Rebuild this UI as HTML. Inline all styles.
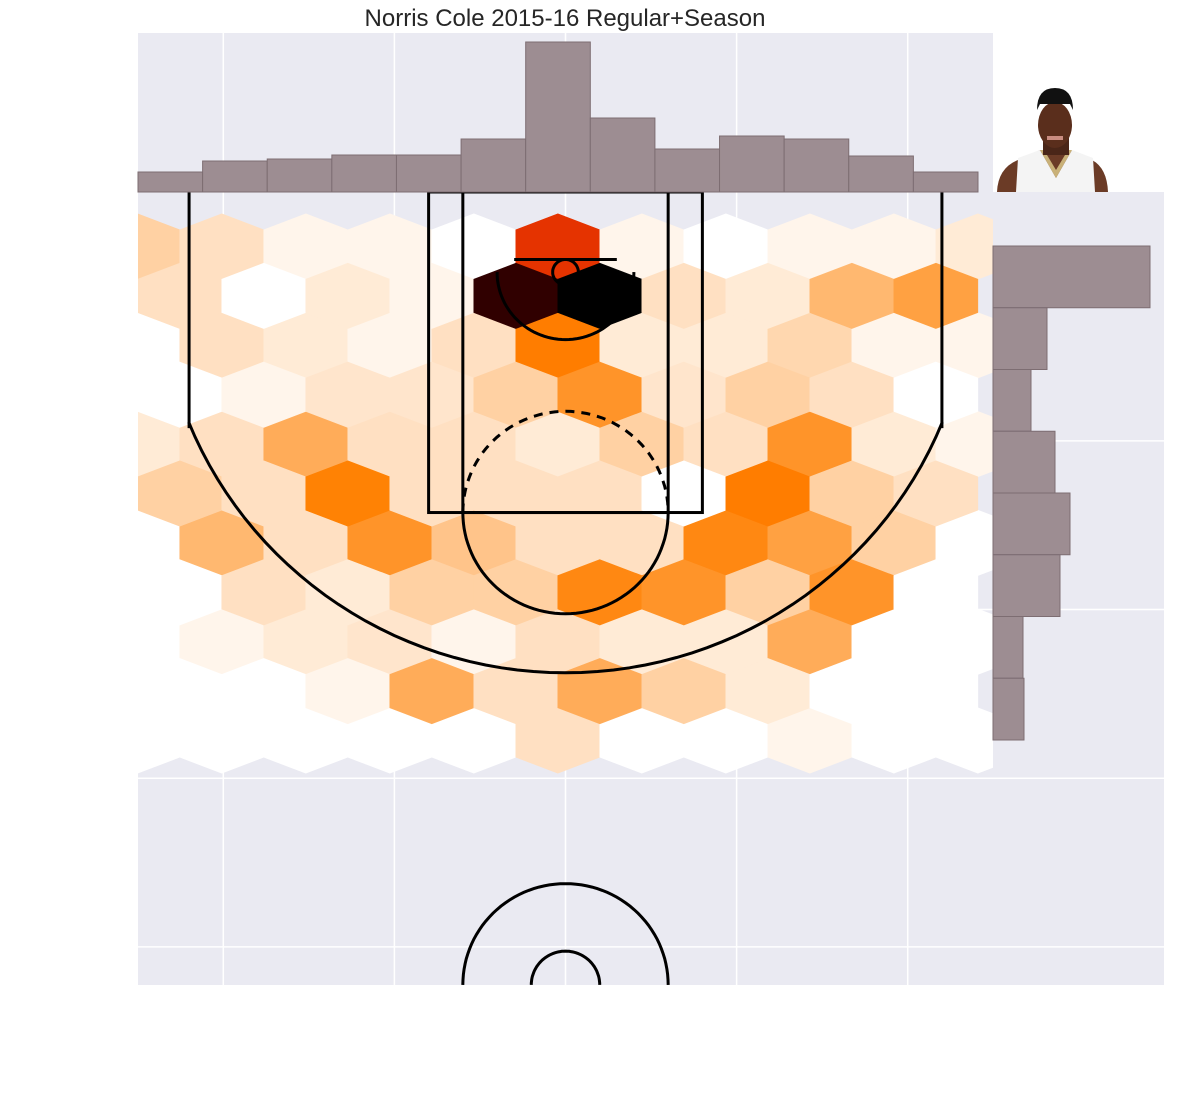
<!DOCTYPE html>
<html><head><meta charset="utf-8"><style>
body{margin:0;background:#fff;}
svg{display:block;font-family:"Liberation Sans",sans-serif;}
</style></head><body>
<svg id="chart" width="1200" height="1100" viewBox="0 0 1200 1100" xmlns="http://www.w3.org/2000/svg">
<text x="565" y="26" text-anchor="middle" font-size="24" fill="#262626">Norris Cole 2015-16 Regular+Season</text>
<rect x="138" y="33" width="855" height="159" fill="#eaeaf2"/>
<rect x="993" y="192" width="171" height="793" fill="#eaeaf2"/>
<rect x="138" y="192" width="855" height="793" fill="#eaeaf2"/>
<g id="grid"></g>
<g id="hexes"></g>
<g id="court" fill="none" stroke="#000" stroke-width="3"></g>
<g id="tophist"></g>
<g id="righthist"></g>
<g>
  <rect x="993" y="80" width="125" height="112" fill="#fff"/>
  <path d="M997 192 Q998 168 1018 160 L1040 150 L1070 150 L1092 160 Q1107 168 1108 192 Z" fill="#6b3b26"/>
  <path d="M1016 192 L1018 158 L1040 150 L1056 178 L1072 150 L1093 158 L1095 192 Z" fill="#f4f4f4"/>
  <path d="M1040 150 L1056 178 L1072 150 L1068 150 L1056 170 L1044 150 Z" fill="#c9b178"/>
  <rect x="1043" y="135" width="26" height="20" fill="#4a2618"/>
  <ellipse cx="1055" cy="125" rx="17" ry="23" fill="#5a2e1c"/>
  <path d="M1037 110 Q1037 88 1055 88 Q1073 88 1073 110 L1070 104 L1040 104 Z" fill="#111"/>
  <rect x="1047" y="136" width="16" height="4" fill="#c98c80"/>
</g>
<script>
// ---- data ----
const hexRowsEven = [
  [4,3,1,1,0,9,1,0,1,1,2],
  [0,3,2,1,3,8,2,2,3.6,1,1],
  [2,3,5.5,3,3,2,4,3,7,2,1],
  [0,5,3,7,4.5,3,3,7.5,6,4,0],
  [0,1,2,2.5,1,3,2,2,5.5,0,0],
  [0,0,0,0,0,3,0,0,1,0,0]
];
const hexRowsOdd = [
  [3,0,2,1,10,11,3,2,5,6],
  [0,1,2.5,2.5,4,7,2.5,4,3,0],
  [4,3,7.8,3,3,3,0,8,4,3],
  [0,3,2,4,4,7.5,7,4,7,0],
  [0,0,1,5.5,3,5.5,4,2,0,0]
];
const levelValues = [0,0.02,0.04,0.06,0.09,0.14,0.185,0.21,0.255,0.4,0.875,1.0];
const topHistCounts = [20,31,33,37,37,53,150,74,43,56,53,36,20];
const rightHistCounts = [157,54,38,62,77,67,30,31];
const xTicks = [-200,-100,0,100,200];
const yTicks = [100,200,300,400];

const NS='http://www.w3.org/2000/svg';
const px = x => 565.5 + x*1.711;
const py = y => 192 + (y+47.5)*1.687;
function mk(tag, attrs, parent){const e=document.createElementNS(NS,tag);for(const k in attrs)e.setAttribute(k,attrs[k]);parent.appendChild(e);return e;}
function lvl(l){const i=Math.floor(l),f=l-i;const a=levelValues[i],b=levelValues[Math.min(i+1,11)];return a+(b-a)*f;}
function heat(v){const x=1-v;const r=Math.min(1,1.5*x),g=Math.max(0,Math.min(1,2*x-1)),b=Math.max(0,Math.min(1,4*x-3));
 return 'rgb('+Math.round(r*255)+','+Math.round(g*255)+','+Math.round(b*255)+')';}

const grid=document.getElementById('grid');
xTicks.forEach(t=>{const l=mk('line',{x1:px(t),x2:px(t),y1:33,y2:985,stroke:'#fff','stroke-width':1.5},grid);

});
yTicks.forEach(t=>{const l=mk('line',{x1:138,x2:1164,y1:py(t),y2:py(t),stroke:'#fff','stroke-width':1.5},grid);

});

const hexG=document.getElementById('hexes');
const clip=mk('clipPath',{id:'clipMain'},document.getElementById('chart'));
mk('rect',{x:138,y:192,width:855,height:793},clip);
hexG.setAttribute('clip-path','url(#clipMain)');
const W=42, H1=16.7, H2=32.7, dxUnit=49.1, rowDy=49.4;
function drawHex(cx,cy,l){
 const pts=[[cx,cy-H2],[cx+W,cy-H1],[cx+W,cy+H1],[cx,cy+H2],[cx-W,cy+H1],[cx-W,cy-H1]].map(p=>p.join(',')).join(' ');
 const h=mk('polygon',{points:pts,fill:heat(lvl(l)),stroke:heat(lvl(l)),'stroke-width':0.6},hexG);
 
 
}
hexRowsEven.forEach((row,r)=>row.forEach((l,k)=>drawHex(px(-250+dxUnit*k),246.5+rowDy*2*r,l)));
hexRowsOdd.forEach((row,r)=>row.forEach((l,k)=>drawHex(px(-250+dxUnit*(k+0.5)),246.5+rowDy*(2*r+1),l)));

const c=document.getElementById('court');
function L(x1,y1,x2,y2){mk('line',{x1:px(x1),y1:py(y1),x2:px(x2),y2:py(y2)},c);}
function arc(cx,cy,r,a0,a1,extra){let d='';const n=60;for(let i=0;i<=n;i++){const a=(a0+(a1-a0)*i/n)*Math.PI/180;
 d+=(i?'L':'M')+px(cx+r*Math.cos(a)).toFixed(1)+' '+py(cy+r*Math.sin(a)).toFixed(1);} const p=mk('path',{d:d},c); if(extra)for(const k in extra)p.setAttribute(k,extra[k]); return p;}
arc(0,0,7.5,0,360);
L(-30,-7.5,30,-7.5);
mk('rect',{x:px(-80),y:py(-47.5),width:px(80)-px(-80),height:py(142.5)-py(-47.5)},c);
mk('rect',{x:px(-60),y:py(-47.5),width:px(60)-px(-60),height:py(142.5)-py(-47.5)},c);
arc(0,142.5,60,0,180);
arc(0,142.5,60,180,360,{'stroke-dasharray':'9,7'});
arc(0,0,40,0,180);
L(-220,-47.5,-220,92.5);L(220,-47.5,220,92.5);
arc(0,0,237.5,22,158);
arc(0,422.5,60,180,360);
arc(0,422.5,20,180,360);

const th=document.getElementById('tophist');
const bw=(978-138)/topHistCounts.length;
topHistCounts.forEach((v,i)=>{const b=mk('rect',{x:138+bw*i,y:192-v,width:bw,height:v,fill:'#9d8d92',stroke:'#7d6d72','stroke-width':1},th);

});
const rh=document.getElementById('righthist');
const bh=(740-246)/rightHistCounts.length;
rightHistCounts.forEach((v,i)=>{const b=mk('rect',{x:993,y:246+bh*i,width:v,height:bh,fill:'#9d8d92',stroke:'#7d6d72','stroke-width':1},rh);

});
</script>
</svg>
</body></html>
